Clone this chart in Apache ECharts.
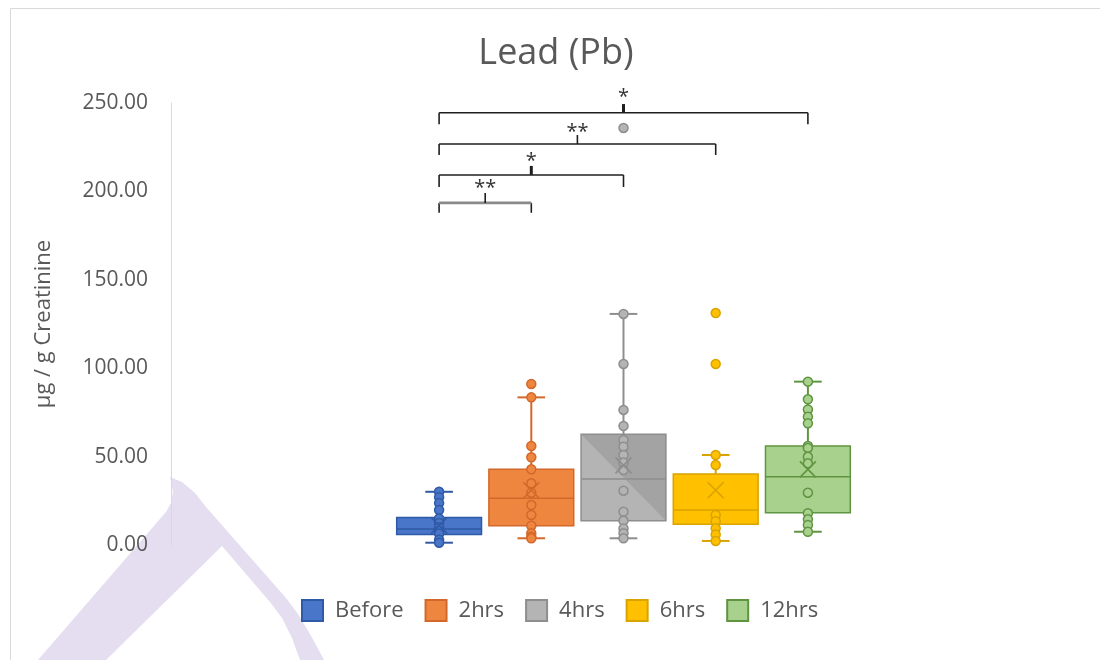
<!DOCTYPE html>
<html>
<head>
<meta charset="utf-8">
<title>Lead (Pb)</title>
<script src="https://cdn.jsdelivr.net/npm/echarts@6/dist/echarts.min.js"></script>
<style>
  html, body { margin: 0; padding: 0; background: #ffffff; }
  #chart { width: 1100px; height: 660px; }
</style>
</head>
<body>
<div id="chart"></div>
<script>
// Sampling times
const categories = ['Before', '2hrs', '4hrs', '6hrs', '12hrs'];

// Box statistics per group: [lower whisker, Q1, median, Q3, upper whisker]
const boxStats = [
  [1.3, 6.0, 9.0, 15.5, 30.1],
  [3.8, 10.9, 26.4, 42.8, 83.5],
  [3.8, 13.7, 37.3, 62.6, 130.7],
  [2.3, 11.8, 19.8, 40.2, 50.9],
  [7.5, 18.3, 38.6, 56.0, 92.4]
];

// Group means (drawn as X)
const means = [11.0, 31.0, 45.0, 31.0, 42.8];

// Individual measurements per group (including outliers)
const pointsBefore = [30.1, 27.0, 23.7, 19.8, 15.0, 12.5, 10.0, 8.0, 6.5, 3.0, 1.3];
const points2hrs = [91.1, 83.5, 56.0, 49.6, 42.8, 34.9, 29.6, 22.6, 17.0, 10.9, 6.6, 4.7, 3.8];
const points4hrs = [235.9, 130.7, 102.4, 76.4, 67.3, 59.4, 55.6, 50.9, 46.6, 42.4, 30.7, 18.8, 13.7, 9.4, 6.6, 3.8];
const points6hrs = [131.2, 102.4, 50.9, 45.2, 17.0, 13.5, 9.5, 6.0, 2.3];
const points12hrs = [92.4, 82.4, 76.7, 72.6, 68.8, 56.0, 54.9, 49.9, 46.2, 29.6, 18.0, 14.5, 11.3, 7.5];
const groupPoints = [pointsBefore, points2hrs, points4hrs, points6hrs, points12hrs];

// Significance brackets: [from group, to group, bar level, end drop level, tick top level, label level]
const bracketLevels = [
  [0, 4, 244.5, 238.0, 249.4, 253.0],
  [0, 3, 226.8, 220.6, 231.9, 233.5],
  [0, 2, 209.3, 202.5, 214.4, 217.0],
  [0, 1, 193.5, 187.9, 199.1, 202.0]
];
const bracketLabels = ['*', '**', '*', '**'];

// Y-axis ticks
const yMin = 0, yMax = 250, yStep = 50;

// Styling
const groupFill = ['#4a76c9', '#ef8640', '#b4b4b4', '#ffc000', '#a9d18e'];
const groupEdge = ['#2f5aa6', '#d2692a', '#8e8e8e', '#d9a300', '#5f9440'];
const groupShade = [null, null, '#a3a3a3', null, null];
const bracketBarColor = ['#1f1f1f', '#1f1f1f', '#1f1f1f', '#8a8a8a'];
const bracketBarWidth = [1.6, 1.6, 1.6, 2.6];
const bracketTickWidth = [3, 1.6, 3, 1.6];
const textColor = '#595959';
const fontFamily = 'Open Sans';

function renderBox(params, api) {
  const i = api.value(0);
  const lo = api.coord([i, api.value(1)]);
  const q1 = api.coord([i, api.value(2)]);
  const md = api.coord([i, api.value(3)]);
  const q3 = api.coord([i, api.value(4)]);
  const hi = api.coord([i, api.value(5)]);
  const band = api.size([1, 0])[0];
  const bw = band * 0.92;
  const cw = band * 0.3;
  const x = lo[0];
  const edge = groupEdge[i];
  const lineStyle = { stroke: edge, lineWidth: 2 };
  const children = [
    { type: 'line', shape: { x1: x, y1: hi[1], x2: x, y2: q3[1] }, style: lineStyle },
    { type: 'line', shape: { x1: x, y1: q1[1], x2: x, y2: lo[1] }, style: lineStyle },
    { type: 'line', shape: { x1: x - cw / 2, y1: hi[1], x2: x + cw / 2, y2: hi[1] }, style: lineStyle },
    { type: 'line', shape: { x1: x - cw / 2, y1: lo[1], x2: x + cw / 2, y2: lo[1] }, style: lineStyle },
    { type: 'rect', shape: { x: x - bw / 2, y: q3[1], width: bw, height: q1[1] - q3[1] },
      style: { fill: groupFill[i] } }
  ];
  if (groupShade[i]) {
    children.push({
      type: 'polygon',
      shape: { points: [[x - bw / 2, q3[1]], [x + bw / 2, q3[1]], [x + bw / 2, q1[1]]] },
      style: { fill: groupShade[i] }
    });
  }
  children.push(
    { type: 'rect', shape: { x: x - bw / 2, y: q3[1], width: bw, height: q1[1] - q3[1] },
      style: { fill: 'none', stroke: edge, lineWidth: 1.5 } },
    { type: 'line', shape: { x1: x - bw / 2, y1: md[1], x2: x + bw / 2, y2: md[1] },
      style: { stroke: edge, lineWidth: 1.5 } }
  );
  return { type: 'group', children: children };
}

function renderMean(params, api) {
  const i = api.value(0);
  const p = api.coord([i, api.value(1)]);
  const h = 8;
  const style = { stroke: groupEdge[i], lineWidth: 1.6 };
  return {
    type: 'group',
    children: [
      { type: 'line', shape: { x1: p[0] - h, y1: p[1] - h, x2: p[0] + h, y2: p[1] + h }, style: style },
      { type: 'line', shape: { x1: p[0] - h, y1: p[1] + h, x2: p[0] + h, y2: p[1] - h }, style: style }
    ]
  };
}

function renderBracket(params, api) {
  const k = params.dataIndex;
  const a = api.value(0), b = api.value(1);
  const level = api.value(2), drop = api.value(3), tickTop = api.value(4), labelLevel = api.value(5);
  const pa = api.coord([a, level]);
  const pb = api.coord([b, level]);
  const ya = api.coord([a, drop])[1];
  const yt = api.coord([a, tickTop])[1];
  const yl = api.coord([a, labelLevel])[1];
  const mid = (pa[0] + pb[0]) / 2;
  const ink = '#1f1f1f';
  return {
    type: 'group',
    children: [
      { type: 'line', shape: { x1: pa[0], y1: ya, x2: pa[0], y2: pa[1] }, style: { stroke: ink, lineWidth: 1.6 } },
      { type: 'line', shape: { x1: pb[0], y1: ya, x2: pb[0], y2: pb[1] }, style: { stroke: ink, lineWidth: 1.6 } },
      { type: 'line', shape: { x1: pa[0], y1: pa[1], x2: pb[0], y2: pb[1] },
        style: { stroke: bracketBarColor[k], lineWidth: bracketBarWidth[k] } },
      { type: 'line', shape: { x1: mid, y1: pa[1], x2: mid, y2: yt },
        style: { stroke: ink, lineWidth: bracketTickWidth[k] } },
      { type: 'text', x: mid, y: yl,
        style: { text: bracketLabels[k], fill: '#333333', fontSize: 20, fontFamily: fontFamily,
                 align: 'center', verticalAlign: 'middle' } }
    ]
  };
}

const chart = echarts.init(document.getElementById('chart'), null, { renderer: 'canvas' });

const pointSeries = categories.map(function (name, i) {
  return {
    name: name,
    type: 'scatter',
    z: 4,
    symbol: 'circle',
    symbolSize: 9,
    itemStyle: { color: groupFill[i], borderColor: groupEdge[i], borderWidth: 1.5, opacity: 1 },
    data: groupPoints[i].map(function (v) { return [i, v]; })
  };
});

chart.setOption({
  animation: false,
  backgroundColor: '#ffffff',
  graphic: [
    {
      type: 'rect', z: -10, silent: true,
      shape: { x: 10.5, y: 8.5, width: 1100, height: 670 },
      style: { fill: 'none', stroke: '#d9d9d9', lineWidth: 1 }
    },
    {
      // decorative lavender stroke in the lower-left corner
      type: 'polygon', z: -9, silent: true,
      shape: {
        points: [
          [38, 660], [166, 512], [171, 503], [173, 492], [170, 477],
          [182, 482], [195, 493], [206, 507], [286, 598], [298, 614],
          [310, 634], [324, 660], [300, 660], [292, 638], [282, 618],
          [270, 602], [222, 546], [106, 660]
        ]
      },
      style: { fill: '#e5ddf0' }
    }
  ],
  title: {
    text: 'Lead (Pb)',
    left: 551,
    top: 31,
    textAlign: 'center',
    textStyle: { color: textColor, fontSize: 36, fontWeight: 'normal', fontFamily: fontFamily }
  },
  legend: {
    data: categories,
    icon: 'rect',
    itemWidth: 21,
    itemHeight: 21,
    itemGap: 21,
    left: 301,
    top: 599,
    padding: 0,
    selectedMode: false,
    textStyle: { color: textColor, fontSize: 22, fontFamily: fontFamily, padding: [0, 0, 0, 7] }
  },
  grid: { left: 393, right: 246, top: 103, bottom: 115 },
  xAxis: {
    type: 'category',
    data: categories,
    show: false
  },
  yAxis: {
    type: 'value',
    min: yMin,
    max: yMax,
    interval: yStep,
    offset: 222,
    name: 'µg / g Creatinine',
    nameLocation: 'middle',
    nameGap: 116,
    nameRotate: 90,
    nameTextStyle: { color: textColor, fontSize: 22, fontFamily: fontFamily },
    axisLine: { show: true, lineStyle: { color: '#d9d9d9', width: 1 } },
    axisTick: { show: false },
    splitLine: { show: false },
    axisLabel: {
      color: textColor, fontSize: 21, fontFamily: fontFamily, margin: 23,
      formatter: function (v) { return v.toFixed(2); }
    }
  },
  series: [
    {
      name: 'box',
      type: 'custom',
      z: 2,
      renderItem: renderBox,
      encode: { x: 0, y: [1, 2, 3, 4, 5] },
      data: boxStats.map(function (s, i) { return [i].concat(s); })
    }
  ].concat(pointSeries, [
    {
      name: 'mean',
      type: 'custom',
      z: 5,
      renderItem: renderMean,
      encode: { x: 0, y: 1 },
      data: means.map(function (m, i) { return [i, m]; })
    },
    {
      name: 'significance',
      type: 'custom',
      z: 6,
      clip: false,
      renderItem: renderBracket,
      encode: { x: [0, 1], y: [2, 3, 4, 5] },
      data: bracketLevels
    }
  ])
});
</script>
</body>
</html>
